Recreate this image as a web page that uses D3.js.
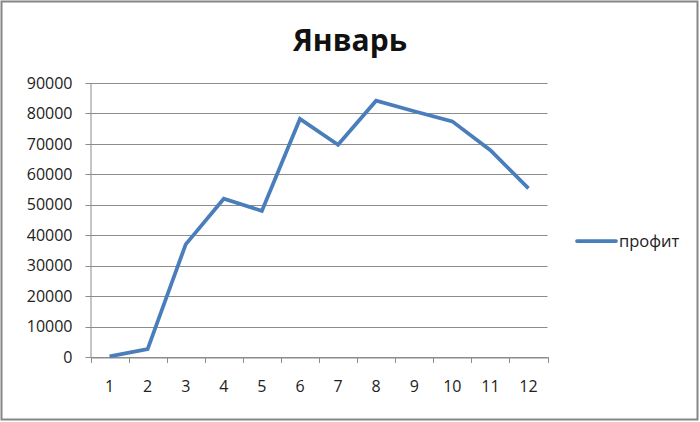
<!DOCTYPE html>
<html>
<head>
<meta charset="utf-8">
<script src="https://cdn.jsdelivr.net/npm/d3@7"></script>
<style>
  body { margin: 0; background: #fff; }
  text { font-family: "Open Sans", "Liberation Sans", sans-serif; }
</style>
</head>
<body>
<svg id="chart"></svg>
<script>
const months = [1, 2, 3, 4, 5, 6, 7, 8, 9, 10, 11, 12];
const profit = [200, 2600, 37000, 52000, 48000, 78200, 69700, 84200, 80700, 77400, 67900, 55400];
const yTicks = [0, 10000, 20000, 30000, 40000, 50000, 60000, 70000, 80000, 90000];
const seriesName = "профит";
const title = "Январь";

const width = 700, height = 422;
const margin = {left: 90.5, right: 152.5, top: 83, bottom: 65};

let svg = d3.select('#chart').attr('width', width).attr('height', height);

svg.append('rect')
  .attr('x', 1.5).attr('y', 1.5)
  .attr('width', width - 4).attr('height', height - 4)
  .attr('fill', '#fff').attr('stroke', '#868686').attr('stroke-width', 2);

let x = d3.scaleBand().domain(months).range([margin.left, width - margin.right]);
let y = d3.scaleLinear().domain([0, 90000]).range([height - margin.bottom, margin.top]);

// gridlines
svg.append('g').selectAll('line')
  .data(yTicks)
  .enter()
  .append('line')
  .attr('x1', margin.left - 5).attr('x2', width - margin.right)
  .attr('y1', d => Math.round(y(d)) + 0.5).attr('y2', d => Math.round(y(d)) + 0.5)
  .attr('stroke', '#8c8c8c').attr('stroke-width', 1);

// y axis
let yAxis = svg.append('g')
  .attr('transform', `translate(${margin.left},0)`)
  .call(d3.axisLeft(y).tickValues(yTicks).tickFormat(d3.format('d')).tickSize(0).tickPadding(18));
yAxis.select('.domain').attr('stroke', '#8c8c8c');
yAxis.selectAll('text').attr('font-size', 16).attr('fill', '#222');

// x axis
let xAxis = svg.append('g')
  .attr('transform', `translate(0,${Math.round(y(0)) + 0.5})`)
  .call(d3.axisBottom(x).tickSize(0).tickPadding(23));
xAxis.select('.domain').attr('stroke', '#8c8c8c');
xAxis.selectAll('text').attr('font-size', 16).attr('fill', '#222');

let bounds = months.map(d => x(d)).concat([x(months[months.length - 1]) + x.bandwidth()]);
svg.append('g').selectAll('line')
  .data(bounds)
  .enter()
  .append('line')
  .attr('x1', d => Math.round(d) + 0.5).attr('x2', d => Math.round(d) + 0.5)
  .attr('y1', Math.round(y(0))).attr('y2', Math.round(y(0)) + 6)
  .attr('stroke', '#8c8c8c');

// line
let line = d3.line()
  .x((d, i) => x(months[i]) + x.bandwidth() / 2)
  .y(d => y(d));

svg.append('path')
  .datum(profit)
  .attr('d', line)
  .attr('fill', 'none')
  .attr('stroke', '#4a7ebb')
  .attr('stroke-width', 3.75)
  .attr('stroke-linejoin', 'miter');

// title
svg.append('text')
  .attr('x', 350).attr('y', 51)
  .attr('text-anchor', 'middle')
  .attr('font-size', 30).attr('font-weight', 'bold')
  .attr('fill', '#111')
  .text(title);

// legend
svg.append('line')
  .attr('x1', 577).attr('x2', 616)
  .attr('y1', 241).attr('y2', 241)
  .attr('stroke', '#4a7ebb').attr('stroke-width', 3.75).attr('stroke-linecap', 'round');
svg.append('text')
  .attr('x', 619).attr('y', 247)
  .attr('font-size', 16.5).attr('fill', '#222')
  .text(seriesName);
</script>
</body>
</html>
